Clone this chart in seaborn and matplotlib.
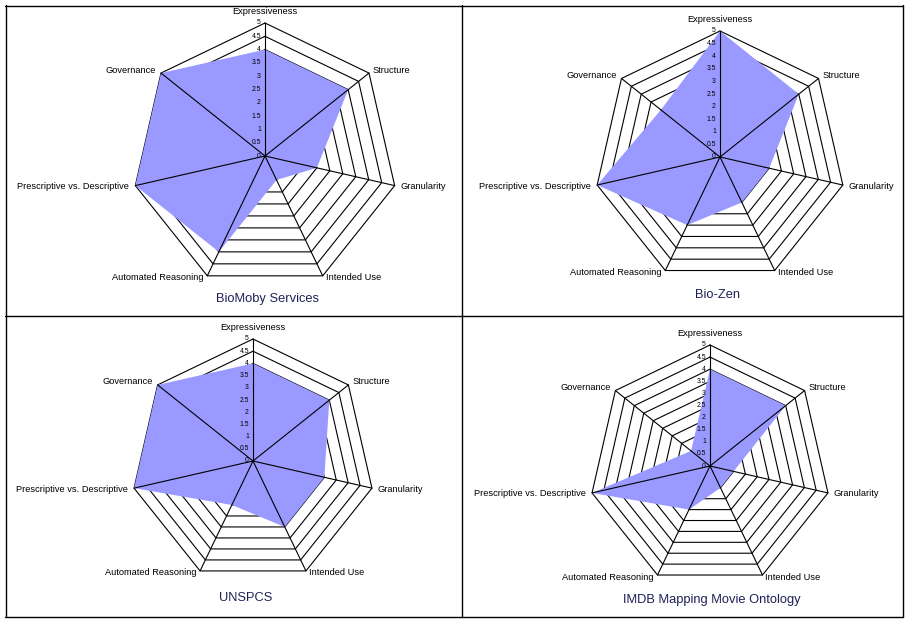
import numpy as np
import matplotlib
matplotlib.use("Agg")
import matplotlib.pyplot as plt
import seaborn as sns
from matplotlib.lines import Line2D

sns.set_theme(style="white")
plt.rcParams['font.family'] = ['Liberation Sans', 'DejaVu Sans']

categories = ["Expressiveness", "Structure", "Granularity", "Intended Use",
              "Automated Reasoning", "Prescriptive vs. Descriptive", "Governance"]
titles = ["BioMoby Services", "Bio-Zen", "UNSPCS", "IMDB Mapping Movie Ontology"]
biomoby = [4, 4, 2, 1, 4, 5, 5]
biozen = [5, 4, 2, 2, 3, 5, 3]
unspcs = [4, 4, 3, 3, 2, 5, 5]
imdb = [4, 4, 1, 1, 2, 5, 1]
series = [biomoby, biozen, unspcs, imdb]
ticks = [0, 0.5, 1, 1.5, 2, 2.5, 3, 3.5, 4, 4.5, 5]
tick_labels = ["0", "0.5", "1", "1.5", "2", "2.5", "3", "3.5", "4", "4.5", "5"]
rmax = 5

W, H = 907, 621
fig = plt.figure(figsize=(W / 100, H / 100), dpi=100)
fig.patch.set_facecolor("white")

# panel cells (pixels) and radar center/radius (pixels)
cells = [(6, 6, 462, 315), (463, 6, 902, 315), (6, 316, 462, 616), (463, 316, 902, 616)]
centers = [(265, 156, 133), (720, 157, 126), (253, 461, 122), (710, 466, 121)]
title_pos = [(268, 299), (718, 295), (246, 598), (712, 600)]

n = len(categories)
theta = np.arange(n) * 2 * np.pi / n
# label offsets in pixels (dx, dy-down), alignment
lab_off = [(0, -12, 'center'), (4, -3, 'left'), (6, 1, 'left'), (3, 2, 'left'),
           (-4, 2, 'right'), (-6, 1, 'right'), (-5, -3, 'right')]

for i in range(4):
    x0, y0, x1, y1 = cells[i]
    cx, cy, R = centers[i]
    ax = fig.add_axes([x0 / W, 1 - y1 / H, (x1 - x0) / W, (y1 - y0) / H])
    s = rmax / R
    ax.set_xlim((x0 - cx) * s, (x1 - cx) * s)
    ax.set_ylim((cy - y1) * s, (cy - y0) * s)
    ax.axis("off")
    ux, uy = np.sin(theta), np.cos(theta)
    # rings
    for t in ticks[1:]:
        xs = np.append(ux * t, ux[0] * t)
        ys = np.append(uy * t, uy[0] * t)
        ax.plot(xs, ys, color="black", lw=0.8, zorder=1, solid_joinstyle="miter")
    # data fill
    v = np.array(series[i], dtype=float)
    ax.fill(np.append(ux * v, ux[0] * v[0]), np.append(uy * v, uy[0] * v[0]),
            color="#9999FF", lw=0, zorder=2)
    # spokes
    for k in range(n):
        ax.plot([0, ux[k] * rmax], [0, uy[k] * rmax], color="black", lw=0.8, zorder=3)
    # tick labels
    for t, tl in zip(ticks, tick_labels):
        ax.annotate(tl, (0, t), xytext=(-3, 0), textcoords="offset points",
                    ha="right", va="center", fontsize=4.9, color="black", zorder=4)
    # category labels
    for k in range(n):
        dx, dy, ha = lab_off[k]
        ax.annotate(categories[k], (ux[k] * rmax, uy[k] * rmax),
                    xytext=(dx * 0.72, -dy * 0.72), textcoords="offset points",
                    ha=ha, va="center", fontsize=6.7, color="black", zorder=4)
    # title
    tx, ty = title_pos[i]
    fig.text(tx / W, 1 - ty / H, titles[i], ha="center", va="center",
             fontsize=9.3, color="#202058")

# panel borders
def hline(y, xa, xb):
    fig.add_artist(Line2D([xa / W, xb / W], [1 - y / H, 1 - y / H], color="black",
                          lw=1.0, transform=fig.transFigure))

def vline(x, ya, yb):
    fig.add_artist(Line2D([x / W, x / W], [1 - ya / H, 1 - yb / H], color="black",
                          lw=1.0, transform=fig.transFigure))

hline(5.5, 5, 903)
hline(315.5, 5, 903)
hline(616.5, 5, 903)
vline(5.5, 5, 617)
vline(462.5, 5, 617)
vline(902.5, 5, 617)

fig.savefig("out.png", dpi=100)
